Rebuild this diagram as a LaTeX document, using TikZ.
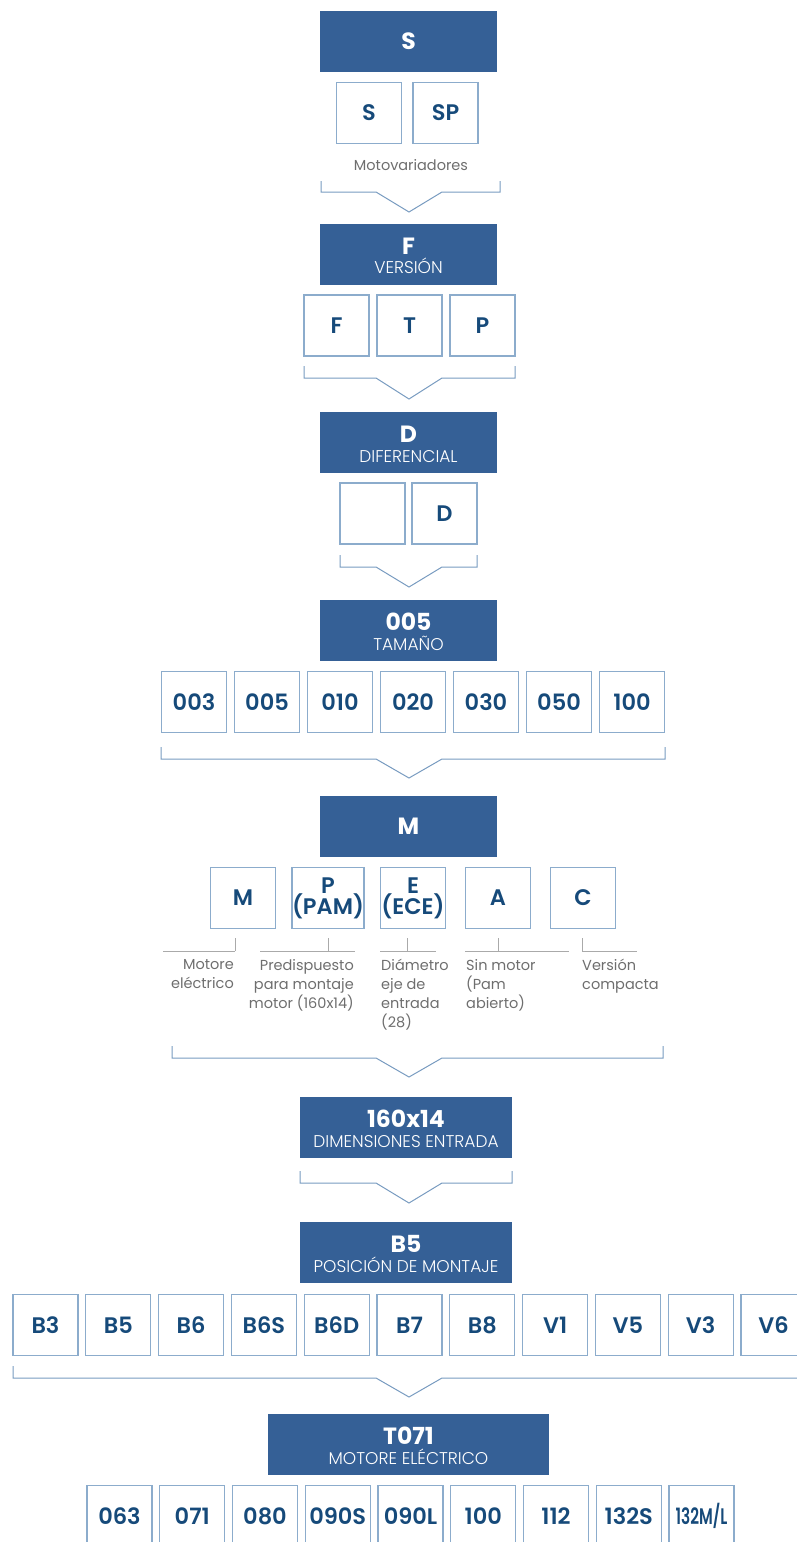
\documentclass[tikz,border=0pt]{standalone}
\usepackage{graphicx}
\usepackage{fontspec}
\setmainfont{Poppins}
\newfontfamily\popmed{Poppins}[UprightFont=* SemiBold]
\newfontfamily\poplight{Poppins}[UprightFont=* Light]
\definecolor{hdrblue}{RGB}{53,96,150}
\definecolor{txtblue}{RGB}{22,74,122}
\definecolor{boxline}{RGB}{140,172,204}
\definecolor{brkline}{RGB}{120,155,192}
\definecolor{graytxt}{RGB}{110,110,110}
\definecolor{grayline}{RGB}{170,170,170}
\tikzset{
  hdr/.style={fill=hdrblue, draw=none, inner sep=0pt, minimum height=61pt},
  hmain/.style={text=white, inner sep=0pt, font=\bfseries\fontsize{23.5}{24}\selectfont},
  hsub/.style={text=white, inner sep=0pt, font=\poplight\fontsize{17}{18}\selectfont},
  optbox/.style={draw=boxline, line width=1.3pt, fill=white, minimum width=65pt, minimum height=61pt, inner sep=0pt, text=txtblue, align=center, font=\popmed\fontsize{22.5}{21}\selectfont},
  brk/.style={draw=brkline, line width=1pt},
  note/.style={text=graytxt, inner sep=0pt, font=\fontsize{14.5}{19}\selectfont},
  tick/.style={draw=grayline, line width=0.8pt}
}
% name, cx, cy, width, main, sub
\newcommand{\hdrtwo}[6]{%
  \node[hdr, minimum width=#4pt] (#1) at (#2,#3) {};
  \node[hmain, anchor=base] (#1-m) at (#2,#3) {#5};
  \node[hsub, anchor=base] (#1-s) at (#2,#3+19.5) {#6};}
\newcommand{\brkt}[5]{% left right ytop ybar yapex
  \draw[brk] (#1,#3) -- (#1,#4) -- (376,#4) -- (409,#5) -- (442,#4) -- (#2,#4) -- (#2,#3);}
\begin{document}
\begin{tikzpicture}[x=1pt,y=-1pt]
\useasboundingbox (0,0) rectangle (797,1542);
\clip (0,0) rectangle (797,1542);
% ---- S
\node[hdr, minimum width=177pt] (hS) at (408.5,41.5) {};
\node[hmain] (hS-m) at (hS) {S};
\node[optbox] (oS) at (369,113) {S};
\node[optbox] (oSP) at (445.5,113) {SP};
\node[note] (tMot) at (411,165) {Motovariadores};
\brkt{321}{500}{181}{192}{212}
% ---- F
\hdrtwo{hF}{408.5}{254}{177}{F}{VERSIÓN}
\node[optbox] (oF) at (336.5,325.5) {F};
\node[optbox] (oT) at (409.5,325.5) {T};
\node[optbox] (oP) at (482.5,325.5) {P};
\brkt{304}{515}{366}{378}{399}
% ---- D
\hdrtwo{hD}{408.5}{442.5}{177}{D}{DIFERENCIAL}
\node[optbox] (oD0) at (372.5,513.5) {};
\node[optbox] (oD) at (444.5,513.5) {D};
\brkt{340}{477}{555}{567}{587}
% ---- 005
\hdrtwo{h005}{408.5}{630.5}{177}{005}{TAMAÑO}
\foreach \t [count=\i from 0] in {003,005,010,020,030,050,100}
  \node[optbox] (sz\i) at ({194+73*\i},702) {\t};
\brkt{161}{665}{747}{759}{778}
% ---- M
\node[hdr, minimum width=177pt] (hM) at (408.5,826.5) {};
\node[hmain] (hM-m) at (hM) {M};
\node[optbox] (mM) at (243,898) {M};
\node[optbox] (mP) at (328,898) {P\\(PAM)};
\node[optbox] (mE) at (413,898) {E\\(ECE)};
\node[optbox] (mA) at (498,898) {A};
\node[optbox] (mC) at (583,898) {C};
\draw[tick] (163,951) -- (235,951) (235,938) -- (235,951);
\draw[tick] (260,951) -- (355,951) (328,938) -- (328,951);
\draw[tick] (380,951) -- (436,951) (407,938) -- (407,951);
\draw[tick] (465,951) -- (569,951) (498,938) -- (498,951);
\draw[tick] (582,951) -- (637,951) (582,938) -- (582,951);
\node[note, align=right, anchor=north east] (nM) at (234,959) {Motore\\eléctrico};
\node[note, align=right, anchor=north east] (nP) at (354,959) {Predispuesto\\para montaje\\motor (160x14)};
\node[note, align=left, anchor=north west] (nE) at (381,959) {Diámetro\\eje de\\entrada\\(28)};
\node[note, align=left, anchor=north west] (nA) at (466,959) {Sin motor\\(Pam\\abierto)};
\node[note, align=left, anchor=north west] (nC) at (582,959) {Versión\\compacta};
\brkt{172}{663}{1046}{1058}{1077}
% ---- 160x14
\hdrtwo{h160}{406}{1127.5}{212}{160x14}{DIMENSIONES ENTRADA}
\brkt{300}{512}{1171}{1183}{1203}
% ---- B5
\hdrtwo{hB5}{406}{1252.5}{212}{B5}{POSICIÓN DE MONTAJE}
\foreach \t [count=\i from 0] in {B3,B5,B6,B6S,B6D,B7,B8,V1,V5,V3,V6}
  \node[optbox] (bp\i) at ({45.5+72.8*\i},1325) {\t};
\brkt{13}{820}{1366}{1378}{1397}
% ---- T071
\hdrtwo{hT}{408.5}{1444.5}{281}{T071}{MOTORE ELÉCTRICO}
\foreach \t [count=\i from 0] in {063,071,080,090S,090L,100,112,132S}
  \node[optbox] (mt\i) at ({119.5+72.75*\i},1516) {\t};
\node[optbox] (mt8) at ({119.5+72.75*8},1516) {\scalebox{0.68}[1]{132M/L}};
\end{tikzpicture}
\end{document}
